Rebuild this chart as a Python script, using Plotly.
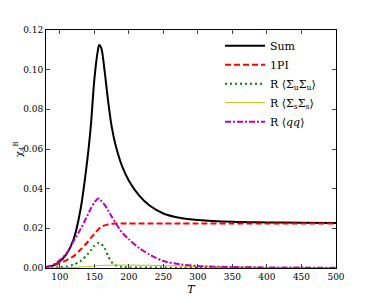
import plotly.graph_objects as go

T = [80, 90, 100, 110, 120, 130, 140, 145, 150, 155, 157, 160, 165, 170, 175, 180,
     190, 200, 215, 230, 250, 275, 300, 350, 400, 450, 500]

sum_vals = [0.0005, 0.0012, 0.0033, 0.0072, 0.0145, 0.0295, 0.055, 0.072, 0.095, 0.1095,
            0.1124, 0.1110, 0.0990, 0.0840, 0.0715, 0.0630, 0.0515, 0.0440, 0.0365, 0.0315,
            0.0275, 0.0252, 0.0242, 0.0233, 0.0230, 0.0228, 0.0227]

onepi_vals = [0.0004, 0.0012, 0.0025, 0.0040, 0.0060, 0.0093, 0.0130, 0.0152, 0.0172, 0.0192,
              0.0199, 0.0207, 0.0215, 0.0220, 0.0223, 0.0225, 0.0225, 0.0225, 0.0225, 0.0225,
              0.0225, 0.0225, 0.0225, 0.0225, 0.0225, 0.0225, 0.0225]

ruu_vals = [0.0001, 0.0002, 0.0004, 0.0008, 0.0017, 0.0035, 0.0068, 0.0090, 0.0112, 0.0125,
            0.0126, 0.0122, 0.0100, 0.0060, 0.0030, 0.0015, 0.0006, 0.0003, 0.0002, 0.0002,
            0.0002, 0.0001, 0.0001, 0.0001, 0.00005, 0.00005, 0.00005]

rss_vals = [0.0, 0.00005, 0.0001, 0.0002, 0.0003, 0.0005, 0.0007, 0.0008, 0.0010, 0.0012,
            0.0012, 0.0013, 0.0013, 0.0014, 0.0014, 0.0015, 0.0015, 0.0015, 0.0014, 0.0014,
            0.0012, 0.0010, 0.0008, 0.0005, 0.0003, 0.0002, 0.0002]

rqq_vals = [0.0005, 0.0015, 0.0040, 0.0075, 0.0135, 0.0195, 0.0265, 0.0300, 0.0330, 0.0350,
            0.0350, 0.0338, 0.0318, 0.0290, 0.0260, 0.0232, 0.0180, 0.0145, 0.0100, 0.0068,
            0.0035, 0.0018, 0.0010, 0.0005, 0.0003, 0.0002, 0.0001]

names = ["Sum", "1PI", "R ⟨Σ<sub>u</sub>Σ<sub>u</sub>⟩", "R ⟨Σ<sub>s</sub>Σ<sub>s</sub>⟩", "R ⟨<i>qq</i>⟩"]
x_ticks = [100, 150, 200, 250, 300, 350, 400, 450, 500]
y_ticks = [0.00, 0.02, 0.04, 0.06, 0.08, 0.10, 0.12]

series = [
    (sum_vals, dict(color="black", width=2, dash="solid")),
    (onepi_vals, dict(color="#ff0000", width=2, dash="6px,3px")),
    (ruu_vals, dict(color="#008000", width=2, dash="2px,3px")),
    (rss_vals, dict(color="#bfbf00", width=1, dash="solid")),
    (rqq_vals, dict(color="#bf00bf", width=2, dash="6px,2px,2px,2px")),
]

fig = go.Figure()
for (vals, line), name in zip(series, names):
    fig.add_trace(go.Scatter(x=T, y=vals, mode="lines", name=name,
                             line=dict(shape="spline", smoothing=0.8, **line)))

font_family = "DejaVu Serif"
fig.update_layout(
    width=366, height=291,
    margin=dict(l=38, r=38, t=22, b=31, autoexpand=False),
    paper_bgcolor="white", plot_bgcolor="white",
    font=dict(family=font_family, size=10, color="black"),
    showlegend=True,
    legend=dict(x=0.6, y=0.995, xanchor="left", yanchor="top",
                bgcolor="rgba(0,0,0,0)", font=dict(size=11, family=font_family),
                itemwidth=40, tracegroupgap=0),
    xaxis=dict(range=[80, 500], tickvals=x_ticks, ticks="inside", ticklen=4,
               tickfont=dict(size=9),
               showline=True, linecolor="black", linewidth=1, mirror="ticks",
               showgrid=False, zeroline=False, automargin=False,
               title=dict(text="<i>T</i>", standoff=4, font=dict(size=11))),
    yaxis=dict(range=[0, 0.12], tickvals=y_ticks, tickformat=".2f", ticks="inside", ticklen=4,
               tickfont=dict(size=9),
               showline=True, linecolor="black", linewidth=1, mirror="ticks",
               showgrid=False, zeroline=False, automargin=False),
    annotations=[dict(text="χ<sub>4</sub><sup>B</sup>", xref="paper", yref="paper",
                      x=0, y=0.5, xshift=-27, xanchor="center", yanchor="middle",
                      textangle=-90, showarrow=False, font=dict(size=10))],
)

fig.write_html("out.html")
